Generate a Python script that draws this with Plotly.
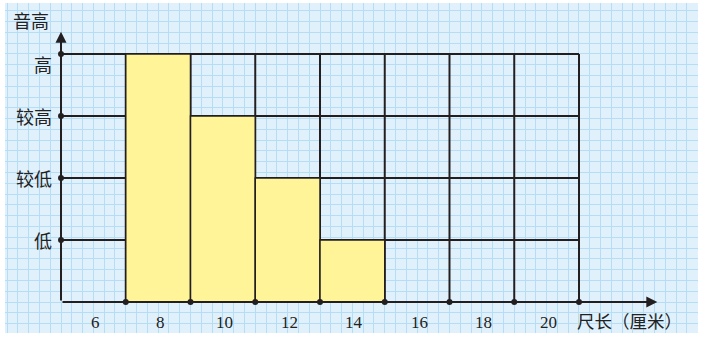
import plotly.graph_objects as go

# ---- data ----
lengths = [6, 8, 10, 12, 14, 16, 18, 20]          # x categories (cm)
bar_lengths = [8, 10, 12, 14]                       # bars present
pitch_levels = [4, 3, 2, 1]                         # bar heights (pitch level)
level_values = [1, 2, 3, 4]
level_labels = ["低", "较低", "较高", "高"]
x_title = "尺长（厘米）"
y_title = "音高"

bin_w = 2
x_lo = lengths[0] - bin_w / 2        # 5
x_hi = lengths[-1] + bin_w / 2       # 21
boundaries = [x_lo + bin_w * (i + 1) for i in range(len(lengths))]  # 7..21
top = max(level_values)

BLACK = "#231f20"
PAPER = "#e1f1fc"
MINOR = "#b5def6"
BAR = "#fff498"
CJK = "Noto Sans CJK SC"
SERIF = "Liberation Serif"

fig = go.Figure()

# bars
fig.add_trace(go.Bar(
    x=bar_lengths, y=pitch_levels, width=bin_w,
    marker=dict(color=BAR, line=dict(color=BLACK, width=1.5)),
    hoverinfo="skip", showlegend=False,
))

# dots on axes
fig.add_trace(go.Scatter(
    x=[x_lo] * len(level_values) + boundaries,
    y=level_values + [0] * len(boundaries),
    mode="markers", marker=dict(color=BLACK, size=6),
    hoverinfo="skip", showlegend=False,
))

shapes = []
for lv in level_values:
    shapes.append(dict(type="line", xref="x", yref="y", x0=x_lo, x1=x_hi, y0=lv, y1=lv,
                       line=dict(color=BLACK, width=2), layer="between"))
for b in boundaries:
    shapes.append(dict(type="line", xref="x", yref="y", x0=b, x1=b, y0=0, y1=top,
                       line=dict(color=BLACK, width=2), layer="between"))

annotations = []
# axes arrows
annotations.append(dict(x=23.42, y=0, ax=x_lo, ay=0, xref="x", yref="y", axref="x", ayref="y",
                        showarrow=True, arrowhead=2, arrowsize=1.1, arrowwidth=2,
                        arrowcolor=BLACK, text="", standoff=0, startstandoff=0))
annotations.append(dict(x=x_lo, y=4.36, ax=x_lo, ay=0, xref="x", yref="y", axref="x", ayref="y",
                        showarrow=True, arrowhead=2, arrowsize=1.1, arrowwidth=2,
                        arrowcolor=BLACK, text="", standoff=0, startstandoff=0))
# x tick labels
for v in lengths:
    annotations.append(dict(x=v, y=0, xref="x", yref="y", text=str(v), showarrow=False,
                            yanchor="middle", yshift=-20, xshift=2,
                            font=dict(family=SERIF, size=17, color="#222")))
# y tick labels
for lv, lab in zip(level_values, level_labels):
    annotations.append(dict(x=x_lo, y=lv, xref="x", yref="y", text=lab, showarrow=False,
                            xanchor="right", xshift=-7, yshift=(-10 if lv == top else 0),
                            yanchor="middle",
                            font=dict(family=CJK, size=18, color="#222")))
# axis titles
annotations.append(dict(x=x_hi, y=0, xref="x", yref="y", text=x_title, showarrow=False,
                        xanchor="left", yanchor="middle", xshift=-4, yshift=-18,
                        font=dict(family=CJK, size=17.5, color="#222")))
annotations.append(dict(x=x_lo, y=4.36, xref="x", yref="y", text=y_title, showarrow=False,
                        xanchor="center", yanchor="middle", xshift=-30, yshift=12,
                        font=dict(family=CJK, size=18, color="#222")))

fig.update_layout(
    width=706, height=339,
    margin=dict(l=5, r=8, t=3, b=6),
    paper_bgcolor="white", plot_bgcolor=PAPER,
    shapes=shapes, annotations=annotations,
    showlegend=False,
    xaxis=dict(range=[3.270, 24.676], tickmode="linear", tick0=x_lo, dtick=1 / 3,
               showgrid=True, gridcolor=MINOR, gridwidth=1, showticklabels=False,
               zeroline=False, showline=False, ticks="", fixedrange=True),
    yaxis=dict(range=[-0.5, 4.8226], tickmode="linear", tick0=0, dtick=0.174,
               showgrid=True, gridcolor=MINOR, gridwidth=1, showticklabels=False,
               zeroline=False, showline=False, ticks="", fixedrange=True),
)

fig.write_html("out.html")
